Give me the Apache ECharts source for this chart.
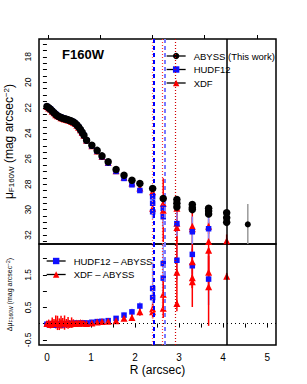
<!DOCTYPE html>
<html><head><meta charset="utf-8">
<script src="https://cdn.jsdelivr.net/npm/echarts@6/dist/echarts.min.js"></script>
<style>html,body{margin:0;padding:0;background:#fff}#c{width:307px;height:384px}</style>
</head><body><div id="c"></div>
<script>
// ---- data ----
const innerR = [0.00,0.04,0.08,0.12,0.16,0.20,0.24,0.28,0.32,0.36,0.40,0.44,0.48,0.52,0.56,0.60,0.64,0.68,0.72,0.76,0.80,0.84];

const abyssR = innerR.concat([0.90,1.02,1.14,1.25,1.39,1.57,1.75,1.93,2.11,2.40,2.64,2.95,2.95,2.95,3.30,3.30,3.30,3.67,3.67,3.67,4.08,4.08,4.08]);
const abyssMu = [21.90,22.00,22.12,22.25,22.40,22.52,22.62,22.70,22.76,22.82,22.86,22.90,22.95,23.00,23.05,23.12,23.22,23.35,23.52,23.70,23.92,24.15,
  24.55,24.95,25.35,25.78,26.25,26.85,27.30,27.69,27.95,28.34,29.12,29.20,29.50,29.80,29.60,29.85,30.00,29.90,30.10,30.35,30.25,30.64,31.00];
const abyssErr = [0.05,0.05,0.05,0.05,0.05,0.05,0.05,0.05,0.05,0.05,0.05,0.05,0.05,0.05,0.05,0.05,0.05,0.05,0.05,0.05,0.05,0.05,
  0.06,0.06,0.07,0.07,0.08,0.08,0.09,0.10,0.10,0.12,0.15,0.15,0.15,0.15,0.18,0.18,0.18,0.20,0.20,0.20,0.25,0.25,0.25];

const abyssOuterR = [4.56];
const abyssOuterMu = [31.16];
const abyssOuterErr = [1.6];

const hudfR = innerR.concat([0.90,1.02,1.14,1.25,1.39,1.57,1.75,1.93,2.11,2.40,2.40,2.40,2.64,2.64,2.95,3.30,3.67]);
const hudfMu = [21.90,22.00,22.10,22.24,22.38,22.50,22.62,22.70,22.74,22.82,22.85,22.91,22.95,23.01,23.05,23.12,23.23,23.36,23.53,23.72,23.95,24.17,
  24.58,25.00,25.42,25.85,26.35,27.00,27.55,28.05,28.50,29.00,29.50,30.17,29.90,30.56,31.10,31.74,31.50];
const hudfErr = [0.05,0.05,0.05,0.05,0.05,0.05,0.05,0.05,0.05,0.05,0.05,0.05,0.05,0.05,0.05,0.05,0.05,0.05,0.05,0.05,0.05,0.05,
  0.06,0.06,0.07,0.08,0.09,0.10,0.12,0.15,0.20,0.30,0.50,0.60,0.60,0.80,1.00,1.20,1.20];

const xdfR = innerR.concat([0.90,1.02,1.14,1.25,1.39,1.57,1.75,1.93,2.11,2.40,2.40,2.64,2.64,2.95,2.95,2.95,3.30,3.30,3.67,3.67,4.08]);
const xdfMu = [21.90,22.02,22.10,22.27,22.40,22.55,22.63,22.68,22.78,22.83,22.88,22.90,22.97,23.00,23.08,23.13,23.22,23.37,23.53,23.73,23.95,24.16,
  24.56,24.98,25.40,25.82,26.30,26.95,27.45,27.90,28.30,28.60,29.90,29.50,30.04,29.90,31.08,31.40,31.30,31.50,31.30,32.50,32.45];
const xdfErr = [0.08,0.08,0.08,0.08,0.08,0.08,0.08,0.08,0.08,0.08,0.08,0.08,0.08,0.08,0.08,0.08,0.08,0.08,0.08,0.08,0.08,0.08,
  0.08,0.08,0.10,0.10,0.12,0.12,0.15,0.18,0.20,0.30,0.60,0.50,2.50,0.50,1.50,2.00,0.70,1.50,0.60,1.50,0.50];

const hudfDiffR = innerR.concat([0.90,1.02,1.14,1.25,1.39,1.57,1.75,1.93,2.11,2.40,2.40,2.64,2.64,2.95,3.30,3.30,3.67]);
const hudfDiff = [-0.02,-0.03,-0.04,-0.03,-0.05,-0.04,-0.02,-0.03,-0.04,-0.02,-0.03,-0.01,-0.02,0.00,-0.01,0.00,0.01,-0.01,0.00,0.01,0.02,0.01,
  0.02,0.04,0.06,0.07,0.09,0.16,0.26,0.36,0.54,0.80,1.08,1.40,1.85,1.95,1.78,2.13,1.37];
const hudfDiffErr = [0.04,0.04,0.04,0.04,0.04,0.04,0.04,0.04,0.04,0.04,0.04,0.04,0.04,0.04,0.04,0.04,0.04,0.04,0.04,0.04,0.04,0.04,
  0.04,0.05,0.05,0.05,0.06,0.07,0.08,0.10,0.12,0.30,0.80,0.50,0.60,0.60,0.60,0.60,0.80];

const xdfDiffR = innerR.concat([0.90,1.02,1.14,1.25,1.39,1.57,1.75,1.93,2.11,2.40,2.40,2.64,2.64,2.95,2.95,3.30,3.30,3.30,3.67,3.67,3.67,4.08]);
const xdfDiff = [0.00,0.02,-0.03,0.03,0.00,0.05,0.02,-0.02,0.04,0.01,0.03,0.00,0.02,-0.01,0.03,0.01,0.00,0.02,0.01,0.03,0.02,0.01,
  0.00,0.02,0.05,0.06,0.07,0.09,0.16,0.19,0.36,0.46,0.36,0.90,0.47,1.58,0.62,1.90,1.41,1.29,2.26,1.58,1.13,1.46];
const xdfDiffErr = [0.08,0.10,0.12,0.16,0.14,0.20,0.22,0.18,0.20,0.16,0.22,0.14,0.18,0.12,0.16,0.12,0.10,0.08,0.08,0.07,0.07,0.07,
  0.05,0.05,0.05,0.06,0.06,0.07,0.08,0.10,0.12,0.15,0.20,0.40,0.30,1.20,0.10,0.80,0.90,0.20,1.00,0.50,1.20,0.10];

// vertical reference radii
const vLines = [2.38, 2.43, 2.62, 2.67, 2.92, 4.08];
// tick labels
const xTickLabels = [0, 1, 2, 3, 4, 5];
const xTicks = [0,0.5,1,1.5,2,2.5,3,3.5,4,4.5,5];
const xTopTicks = [0.02, 1.20, 2.39, 3.57, 4.77];
const muTickLabels = [18, 20, 22, 24, 26, 28, 30, 32];
const muTicks = [17,17.5,18,18.5,19,19.5,20,20.5,21,21.5,22,22.5,23,23.5,24,24.5,25,25.5,26,26.5,27,27.5,28,28.5,29,29.5,30,30.5,31,31.5,32,32.5];
const dTickLabels = [-0.5, 0.5, 1.5];
const dTicks = [-0.5, 0, 0.5, 1, 1.5, 2];

// ---- chart ----
const FF = 'Liberation Sans, Arial, Helvetica, sans-serif';
const zip = (a, b) => a.map((v, i) => [v, b[i]]);
const errData = (x, y, e) => x.map((v, i) => [v, y[i] - e[i], y[i] + e[i]]);
function errSeries(xi, yi, data, color, w) {
  return {
    type: 'custom', xAxisIndex: xi, yAxisIndex: yi, clip: true, silent: true, z: 2,
    data: data,
    renderItem: function (params, api) {
      const p1 = api.coord([api.value(0), api.value(1)]);
      const p2 = api.coord([api.value(0), api.value(2)]);
      return { type: 'line', shape: { x1: p1[0], y1: p1[1], x2: p2[0], y2: p2[1] },
        style: { stroke: color, lineWidth: w || 1.5 } };
    }
  };
}
const vStyles = [
  { color: '#ff7070', type: [1, 2], width: 1.2 },
  { color: '#0000ff', type: [4, 3], width: 2 },
  { color: '#ff3030', type: [1, 2], width: 1.2 },
  { color: '#7a7aff', type: [4, 3], width: 2 },
  { color: '#d00000', type: [1, 2], width: 1.2 },
  { color: '#000000', type: 'solid', width: 1.5 }
];
function vMark(extra) {
  const d = vLines.map((v, i) => ({ xAxis: v, lineStyle: vStyles[i] }));
  return { silent: true, symbol: ['none', 'none'], label: { show: false }, animation: false,
    data: extra ? d.concat(extra) : d };
}
function pts(name, xi, yi, data, sym, size, color, z) {
  return { name: name, type: 'line', xAxisIndex: xi, yAxisIndex: yi, data: data,
    symbol: sym, symbolSize: size, showSymbol: true, showAllSymbol: true,
    itemStyle: { color: color }, lineStyle: { width: 0, opacity: 0 }, z: z || 3,
    emphasis: { disabled: true } };
}

const chart = echarts.init(document.getElementById('c'), null, { renderer: 'svg' });
chart.setOption({
  animation: false,
  backgroundColor: '#fff',
  textStyle: { fontFamily: FF },
  grid: [
    { left: 39, right: 31, top: 39, height: 205, show: true, borderColor: '#000', borderWidth: 1.5, containLabel: false, outerBoundsMode: 'none' },
    { left: 39, right: 31, top: 244, height: 101, show: true, borderColor: '#000', borderWidth: 1.5, containLabel: false, outerBoundsMode: 'none' }
  ],
  xAxis: [
    { type: 'value', gridIndex: 0, position: 'top', min: -0.18, max: 5.2,
      axisLine: { show: false }, splitLine: { show: false },
      axisTick: { show: true, inside: false, length: 4, customValues: xTopTicks, lineStyle: { color: '#000', width: 1 } },
      axisLabel: { show: false } },
    { type: 'value', gridIndex: 1, position: 'bottom', min: -0.18, max: 5.2,
      axisLine: { show: false }, splitLine: { show: false },
      axisTick: { show: true, inside: false, length: 4, customValues: xTicks, lineStyle: { color: '#000', width: 1 } },
      axisLabel: { show: true, customValues: xTickLabels, margin: 7, fontSize: 10, color: '#000', fontFamily: FF },
      name: 'R (arcsec)', nameLocation: 'middle', nameGap: 19,
      nameTextStyle: { fontSize: 12, color: '#000', fontFamily: FF } }
  ],
  yAxis: [
    { type: 'value', gridIndex: 0, inverse: true, min: 16.6, max: 32.7,
      axisLine: { show: false }, splitLine: { show: false },
      axisTick: { show: true, inside: false, length: 4, customValues: muTicks, lineStyle: { color: '#000', width: 1 } },
      axisLabel: { show: true, customValues: muTickLabels, rotate: 90, margin: 7, fontSize: 8.5, color: '#000', fontFamily: FF },
      name: '{n|μ}{s|F160W}{n| (mag arcsec}{p|−2}{n|)}', nameLocation: 'middle', nameGap: 21, nameRotate: 90,
      nameTextStyle: { color: '#000', fontFamily: FF, rich: {
        n: { fontSize: 12, fontFamily: FF, color: '#000' },
        s: { fontSize: 8, fontFamily: FF, color: '#000', verticalAlign: 'bottom', padding: [5, 0, 0, 0] },
        p: { fontSize: 8, fontFamily: FF, color: '#000', verticalAlign: 'top', padding: [0, 0, 5, 0] } } } },
    { type: 'value', gridIndex: 1, min: -0.66, max: 2.45,
      axisLine: { show: false }, splitLine: { show: false },
      axisTick: { show: true, inside: false, length: 4, customValues: dTicks, lineStyle: { color: '#000', width: 1 } },
      axisLabel: { show: true, customValues: dTickLabels, rotate: 90, margin: 7, fontSize: 8.5, color: '#000', fontFamily: FF },
      name: '{n|Δμ}{s|F160W}{n| (mag arcsec}{p|−2}{n|)}', nameLocation: 'middle', nameGap: 26, nameRotate: 90,
      nameTextStyle: { color: '#000', fontFamily: FF, rich: {
        n: { fontSize: 7, fontFamily: FF, color: '#000' },
        s: { fontSize: 5, fontFamily: FF, color: '#000', verticalAlign: 'bottom', padding: [3, 0, 0, 0] },
        p: { fontSize: 5, fontFamily: FF, color: '#000', verticalAlign: 'top', padding: [0, 0, 3, 0] } } } }
  ],
  legend: [
    { data: ['ABYSS (This work)', 'HUDF12', 'XDF'], orient: 'vertical', left: 161, top: 46,
      itemWidth: 19, itemHeight: 8, itemGap: 3.5, selectedMode: false,
      lineStyle: { width: 1.3, color: '#000', opacity: 1 },
      textStyle: { fontSize: 9.5, color: '#000', fontFamily: FF, padding: [0, 0, 0, 3] } },
    { data: ['HUDF12 – ABYSS', 'XDF – ABYSS'], orient: 'vertical', left: 41, top: 251,
      itemWidth: 19, itemHeight: 8, itemGap: 3.5, selectedMode: false,
      lineStyle: { width: 1.3, color: '#000', opacity: 1 },
      textStyle: { fontSize: 9.5, color: '#000', fontFamily: FF, padding: [0, 0, 0, 3] } }
  ],
  graphic: [
    { type: 'text', left: 62, top: 48, style: { text: 'F160W', fontSize: 13, fontWeight: 'bold', fill: '#000', fontFamily: FF } }
  ],
  series: [
    // top panel error bars
    errSeries(0, 0, errData(xdfR, xdfMu, xdfErr), '#ff0000', 1.5),
    errSeries(0, 0, errData(hudfR, hudfMu, hudfErr), '#8c8cff', 1.5),
    errSeries(0, 0, errData(abyssR, abyssMu, abyssErr), '#9a9a9a', 1.5),
    errSeries(0, 0, errData(abyssOuterR, abyssOuterMu, abyssOuterErr), '#9a9a9a', 1.5),
    // top panel points
    Object.assign(pts('XDF', 0, 0, zip(xdfR, xdfMu), 'triangle', 7, '#ff0000', 3), { markLine: vMark() }),
    pts('HUDF12', 0, 0, zip(hudfR, hudfMu), 'rect', 5.5, '#1010ff', 4),
    pts('ABYSS (This work)', 0, 0, zip(abyssR, abyssMu), 'circle', 7.5, '#000', 5),
    pts('ABYSS outer', 0, 0, zip(abyssOuterR, abyssOuterMu), 'circle', 6, '#000', 5),
    // bottom panel error bars
    errSeries(1, 1, errData(hudfDiffR, hudfDiff, hudfDiffErr), '#8c8cff', 1.5),
    errSeries(1, 1, errData(xdfDiffR, xdfDiff, xdfDiffErr), '#ff0000', 1.5),
    // bottom panel points
    Object.assign(pts('HUDF12 – ABYSS', 1, 1, zip(hudfDiffR, hudfDiff), 'rect', 5.5, '#1010ff', 3),
      { markLine: vMark([{ yAxis: 0, lineStyle: { color: '#000', type: [1, 3], width: 1 } }]) }),
    pts('XDF – ABYSS', 1, 1, zip(xdfDiffR, xdfDiff), 'triangle', 7, '#ff0000', 4)
  ]
});
</script></body></html>
